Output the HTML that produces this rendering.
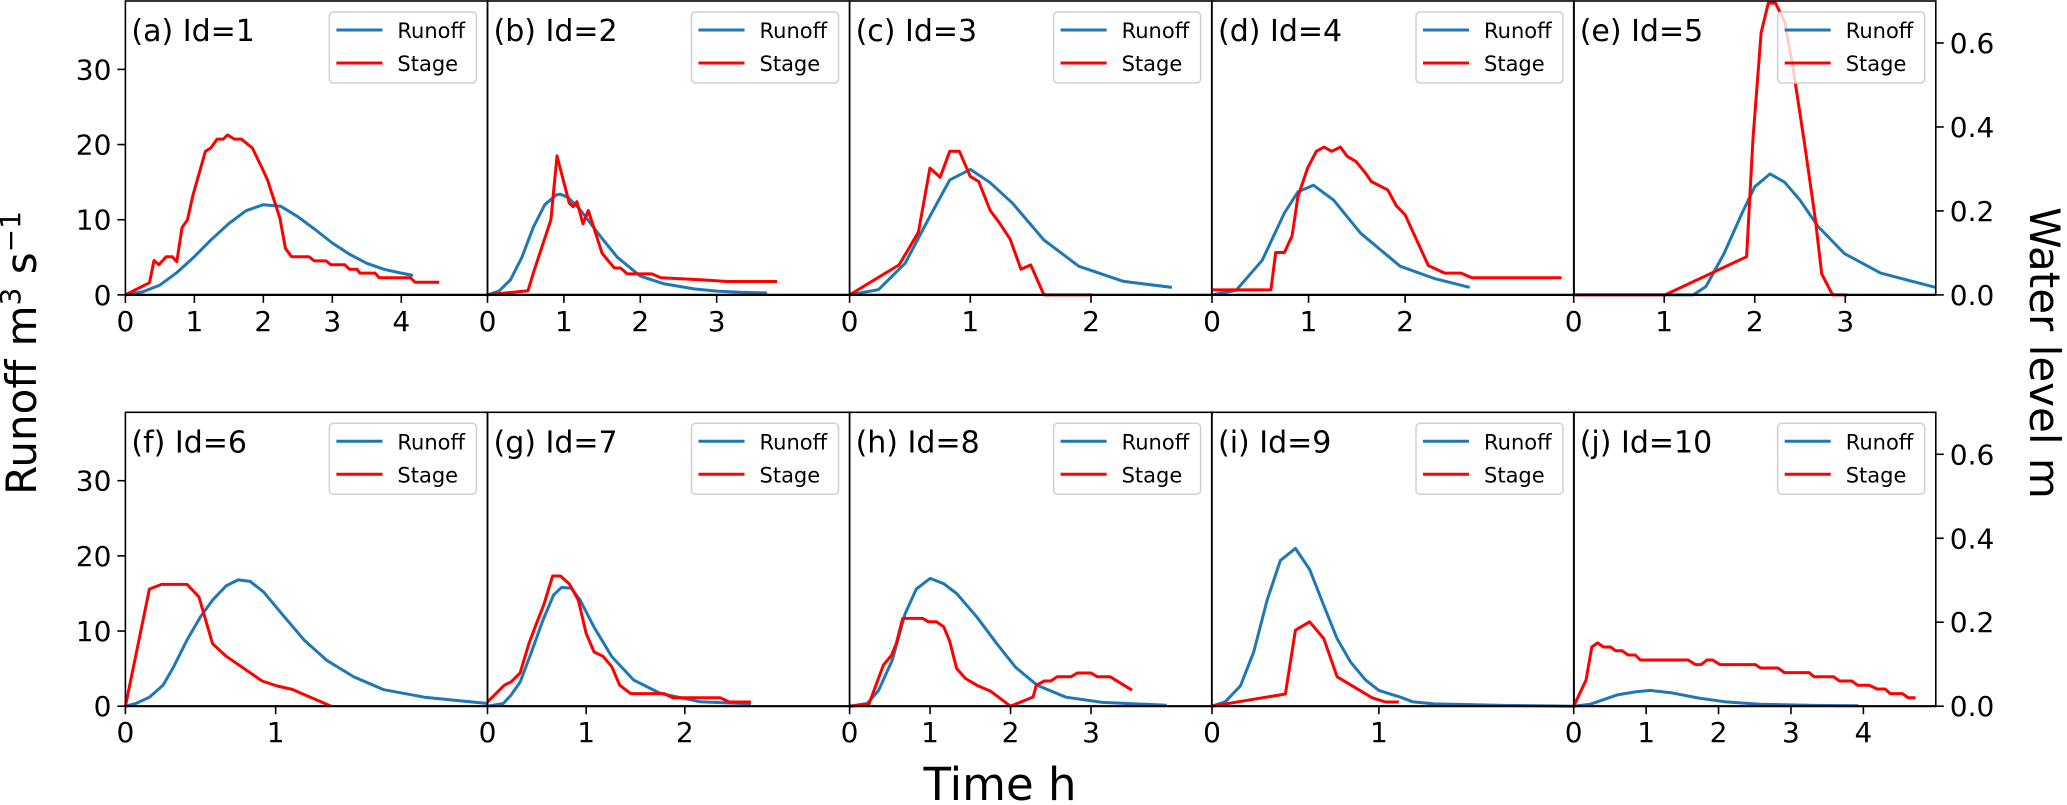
<!DOCTYPE html>
<html><head><meta charset="utf-8">
<style>
html,body{margin:0;padding:0;background:#fff;}
svg{display:block;font-family:"DejaVu Sans","Liberation Sans",sans-serif;}
</style></head>
<body>
<svg id="fig" width="2067" height="805" viewBox="0 0 2067 805" xmlns="http://www.w3.org/2000/svg">
<text transform="translate(36,353) rotate(-90)" text-anchor="middle" font-size="42">Runoff m<tspan font-size="28" dy="-16">3</tspan><tspan dy="16"> s</tspan><tspan font-size="28" dy="-16">−1</tspan></text>
<text transform="translate(2030,353) rotate(90)" text-anchor="middle" font-size="42">Water level m</text>
<text x="1000" y="800" text-anchor="middle" font-size="45">Time h</text>
</svg>
<script>
const panelLabels = ["(a) Id=1","(b) Id=2","(c) Id=3","(d) Id=4","(e) Id=5","(f) Id=6","(g) Id=7","(h) Id=8","(i) Id=9","(j) Id=10"];
const xMax = [5.25,4.74,3.0,3.75,4.0,2.41,3.67,4.5,2.17,5.0];
const xTicks = [[0,1,2,3,4],[0,1,2,3],[0,1,2],[0,1,2],[0,1,2,3],[0,1],[0,1,2],[0,1,2,3],[0,1],[0,1,2,3,4]];
const runoffMax = 39.1;
const stageMax = 0.70;
const leftTicks = [0,10,20,30];
const leftTickLabels = ["0","10","20","30"];
const rightTicks = [0,0.2,0.4,0.6];
const rightTickLabels = ["0.0","0.2","0.4","0.6"];

const runoffT = [
 [0,0.25,0.5,0.75,1,1.25,1.5,1.75,2,2.25,2.5,2.75,3,3.25,3.5,3.75,4,4.17],
 [0,0.15,0.3,0.45,0.6,0.75,0.9,0.95,1.05,1.2,1.35,1.5,1.7,2.0,2.3,2.7,3.0,3.3,3.66],
 [0,0.24,0.46,0.68,0.83,1.0,1.16,1.35,1.61,1.9,2.27,2.67],
 [0,0.25,0.52,0.75,0.89,1.05,1.26,1.54,1.95,2.3,2.67],
 [0,1.32,1.46,1.66,1.86,2.0,2.17,2.33,2.5,2.7,2.99,3.39,4.0],
 [0,0.07,0.16,0.25,0.32,0.41,0.5,0.58,0.67,0.75,0.83,0.92,1.04,1.19,1.34,1.52,1.72,1.99,2.41],
 [0,0.16,0.24,0.33,0.44,0.56,0.67,0.75,0.85,0.94,1.08,1.26,1.48,1.75,2.15,2.67],
 [0,0.22,0.36,0.53,0.69,0.83,1.0,1.17,1.33,1.58,1.83,2.06,2.33,2.69,3.14,3.94],
 [0,0.08,0.17,0.25,0.33,0.41,0.5,0.585,0.67,0.75,0.83,0.92,1.0,1.13,1.2,1.33,1.74,2.17],
 [0,0.23,0.6,0.85,1.06,1.34,1.71,2.08,2.57,3.31,3.93]
];
const runoffV = [
 [0,0.4,1.3,3,5.1,7.4,9.5,11.2,12,11.8,10.4,8.7,6.9,5.4,4.2,3.4,2.9,2.6],
 [0,0.5,2,5,9,12,13.3,13.4,13,11.5,9.5,7.5,5,2.5,1.5,0.8,0.5,0.35,0.25],
 [0,0.7,4.2,10.9,15.3,16.7,15,12.2,7.3,3.8,1.8,1.0],
 [0,0.6,4.6,10.9,13.7,14.6,12.6,8.2,3.8,2.2,1.0],
 [0,0,1.1,5.5,10.9,14.4,16.1,15.0,12.6,9.1,5.5,2.9,1.0],
 [0,0.36,1.2,2.8,5.2,8.8,11.9,14.1,16.0,16.8,16.6,15.2,12.3,8.8,6.1,3.9,2.2,1.2,0.36],
 [0,0.36,1.5,3.2,7.0,11.4,14.8,15.8,15.7,14.1,10.5,6.6,3.5,1.7,0.6,0.3],
 [0,0.36,2.1,6.1,12.3,15.6,17.0,16.3,15.0,11.9,8.3,5.2,2.8,1.2,0.5,0.13],
 [0,0.6,2.7,7.2,14.1,19.4,21.0,18.2,13.4,9.0,5.9,3.5,2.1,1.2,0.6,0.3,0.1,0],
 [0,0.27,1.5,1.9,2.1,1.8,1.1,0.6,0.27,0.1,0.05]
];
const stageT = [
 [0,0.35,0.415,0.486,0.59,0.68,0.745,0.82,0.9,0.98,1.16,1.24,1.33,1.42,1.48,1.58,1.68,1.84,1.97,2.06,2.24,2.32,2.41,2.66,2.74,2.91,2.98,3.18,3.25,3.36,3.40,3.62,3.68,4.13,4.2,4.55],
 [0,0.53,0.60,0.83,0.91,1.07,1.12,1.17,1.25,1.32,1.50,1.66,1.74,1.83,2.15,2.27,2.79,3.14,3.79],
 [0,0.41,0.57,0.665,0.75,0.83,0.91,1.0,1.07,1.165,1.24,1.33,1.42,1.50,1.61,2.01],
 [0,0.61,0.66,0.75,0.83,0.89,0.99,1.08,1.16,1.24,1.33,1.40,1.49,1.59,1.65,1.82,1.91,2.0,2.24,2.41,2.58,2.69,3.62],
 [0,1.01,1.91,1.98,2.07,2.15,2.23,2.33,2.42,2.55,2.67,2.74,2.86,3.02],
 [0,0.16,0.24,0.41,0.49,0.58,0.67,0.91,1.01,1.11,1.37],
 [0,0.17,0.24,0.33,0.42,0.49,0.57,0.66,0.74,0.83,0.92,1.0,1.08,1.17,1.26,1.34,1.45,1.79,1.88,2.36,2.45,2.67],
 [0,0.24,0.32,0.42,0.52,0.58,0.66,0.91,0.98,1.08,1.17,1.24,1.33,1.44,1.58,1.75,2.0,2.28,2.32,2.42,2.50,2.58,2.75,2.83,3.0,3.08,3.24,3.51],
 [0,0.44,0.50,0.585,0.67,0.75,0.96,1.04,1.12],
 [0,0.17,0.25,0.33,0.41,0.51,0.58,0.67,0.75,0.85,0.92,1.58,1.68,1.76,1.84,1.92,2.02,2.51,2.58,2.82,2.91,3.25,3.32,3.59,3.67,3.84,3.92,4.08,4.19,4.30,4.37,4.54,4.62,4.72]
];
const stageV = [
 [0,0.029,0.082,0.072,0.091,0.091,0.079,0.160,0.179,0.238,0.342,0.350,0.371,0.371,0.381,0.371,0.371,0.350,0.306,0.274,0.183,0.111,0.091,0.091,0.081,0.081,0.072,0.072,0.061,0.061,0.052,0.052,0.041,0.041,0.030,0.030],
 [0,0.010,0.052,0.179,0.331,0.219,0.210,0.222,0.169,0.201,0.099,0.064,0.064,0.050,0.050,0.041,0.036,0.032,0.032],
 [0,0.0715,0.149,0.302,0.280,0.342,0.342,0.282,0.270,0.201,0.172,0.133,0.061,0.0715,0,0],
 [0.012,0.012,0.101,0.101,0.141,0.234,0.302,0.342,0.352,0.342,0.352,0.330,0.318,0.290,0.270,0.250,0.212,0.191,0.070,0.052,0.052,0.041,0.041],
 [0,0,0.091,0.369,0.624,0.695,0.695,0.651,0.544,0.361,0.179,0.050,0,0],
 [0,0.279,0.290,0.290,0.260,0.149,0.119,0.060,0.048,0.040,0],
 [0.010,0.050,0.058,0.079,0.149,0.193,0.241,0.310,0.310,0.291,0.253,0.173,0.129,0.119,0.094,0.050,0.030,0.030,0.020,0.020,0.010,0.010],
 [0,0.005,0.046,0.098,0.121,0.149,0.209,0.209,0.201,0.201,0.189,0.157,0.090,0.066,0.050,0.036,0,0.022,0.050,0.060,0.060,0.070,0.070,0.079,0.079,0.070,0.070,0.038],
 [0,0.029,0.181,0.201,0.161,0.070,0.020,0.010,0.010],
 [0,0.062,0.141,0.151,0.141,0.141,0.132,0.132,0.122,0.122,0.110,0.110,0.099,0.099,0.110,0.110,0.099,0.099,0.091,0.091,0.080,0.080,0.070,0.070,0.060,0.060,0.050,0.050,0.041,0.041,0.030,0.030,0.020,0.020]
];

const NS = "http://www.w3.org/2000/svg";
const svg = document.getElementById('fig');
const PL = [125.4,487.5,849.6,1212,1573.7];
const PW = 362.1;
const rowTop = [1,412.3];
const PH = 293.9;
const BLUE = "#1f77b4", RED = "#ff0000";

function mk(tag, attrs, parent){
  const e = document.createElementNS(NS, tag);
  for (const k in attrs) e.setAttribute(k, attrs[k]);
  (parent||svg).appendChild(e);
  return e;
}

for (let p = 0; p < 10; p++){
  const col = p % 5, row = Math.floor(p / 5);
  const L = PL[col], T = rowTop[row], B = T + PH;
  const xs = t => L + t / xMax[p] * PW;
  const yr = v => B - v / runoffMax * PH;
  const ys = v => B - v / stageMax * PH;
  const g = mk('g', {});
  
  

  const rp = runoffT[p].map((t,i) => xs(t).toFixed(1) + ',' + yr(runoffV[p][i]).toFixed(1)).join(' ');
  const rl = mk('polyline', {points: rp, fill:'none', stroke:BLUE, 'stroke-width':3, 'stroke-linejoin':'round'}, g);
  
  
  const sp = stageT[p].map((t,i) => xs(t).toFixed(1) + ',' + ys(stageV[p][i]).toFixed(1)).join(' ');
  const sl = mk('polyline', {points: sp, fill:'none', stroke:RED, 'stroke-width':3, 'stroke-linejoin':'round'}, g);
  
  

  const frame = mk('rect', {x:L, y:T, width:PW, height:PH, fill:'none', stroke:'#000', 'stroke-width':1.6}, g);
  
  
  mk('line', {x1:L, x2:L+PW, y1:B, y2:B, stroke:'#000', 'stroke-width':2.2}, g);

  xTicks[p].forEach((t) => {
    const x = xs(t);
    mk('line', {x1:x, x2:x, y1:B, y2:B+8, stroke:'#000', 'stroke-width':1.6}, g);
    const tx = mk('text', {x:x, y:B+36, 'text-anchor':'middle', 'font-size':28}, g);
    tx.textContent = String(t);
    
    
  });
  if (col === 0){
    leftTicks.forEach((v,i) => {
      const y = yr(v);
      mk('line', {x1:L-8, x2:L, y1:y, y2:y, stroke:'#000', 'stroke-width':1.6}, g);
      const tx = mk('text', {x:L-14, y:y+10, 'text-anchor':'end', 'font-size':28}, g);
      tx.textContent = leftTickLabels[i];
      
      
    });
  }
  if (col === 4){
    rightTicks.forEach((v,i) => {
      const y = ys(v);
      mk('line', {x1:L+PW, x2:L+PW+8, y1:y, y2:y, stroke:'#000', 'stroke-width':1.6}, g);
      const tx = mk('text', {x:L+PW+14, y:y+10, 'text-anchor':'start', 'font-size':28}, g);
      tx.textContent = rightTickLabels[i];
      
      
    });
  }
  const title = mk('text', {x:L+6, y:T+40, 'font-size':30}, g);
  title.textContent = panelLabels[p];
  
  

  const lg = mk('g', {}, g);
  
  
  mk('rect', {x:L+204, y:T+11, width:147, height:71, rx:4, fill:'rgba(255,255,255,0.8)', stroke:'#d0d0d0', 'stroke-width':1.5}, lg);
  mk('line', {x1:L+211, x2:L+257, y1:T+29, y2:T+29, stroke:BLUE, 'stroke-width':3}, lg);
  mk('line', {x1:L+211, x2:L+257, y1:T+62, y2:T+62, stroke:RED, 'stroke-width':3}, lg);
  const t1 = mk('text', {x:L+272, y:T+37, 'font-size':21}, lg);
  t1.textContent = 'Runoff';
  
  
  const t2 = mk('text', {x:L+272, y:T+70, 'font-size':21}, lg);
  t2.textContent = 'Stage';
  
  
}
</script>
</body></html>
